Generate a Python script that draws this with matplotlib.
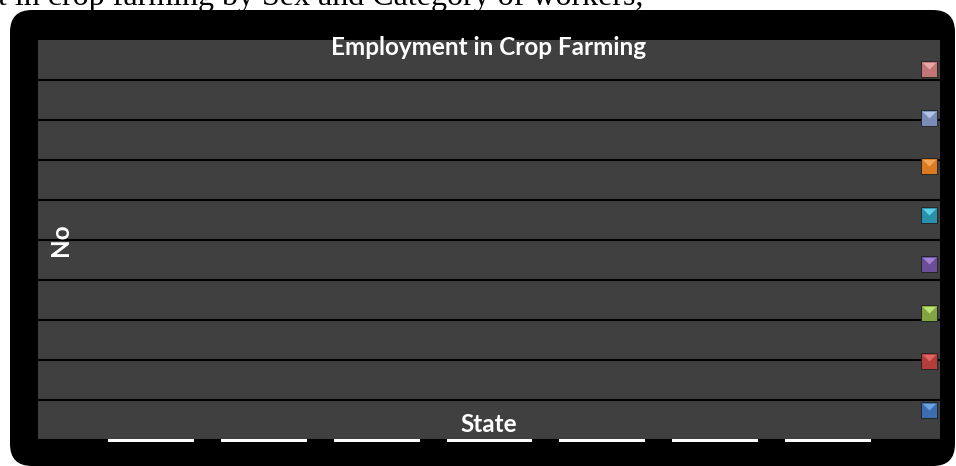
import numpy as np
import matplotlib
matplotlib.use("Agg")
import matplotlib.pyplot as plt
from matplotlib.patches import FancyBboxPatch
from matplotlib.lines import Line2D
from matplotlib.path import Path
from matplotlib.legend_handler import HandlerTuple
from matplotlib.transforms import IdentityTransform

# crop farming employment by state, 8 worker categories (stacked)
states = ["", "", "", "", "", "", ""]
cat_1 = [0, 0, 0, 0, 0, 0, 0]
cat_2 = [0, 0, 0, 0, 0, 0, 0]
cat_3 = [0, 0, 0, 0, 0, 0, 0]
cat_4 = [0, 0, 0, 0, 0, 0, 0]
cat_5 = [0, 0, 0, 0, 0, 0, 0]
cat_6 = [0, 0, 0, 0, 0, 0, 0]
cat_7 = [0, 0, 0, 0, 0, 0, 0]
cat_8 = [0, 0, 0, 0, 0, 0, 0]
cat_names = ["", "", "", "", "", "", "", ""]
y_max = 10

# face colour / lighter bevel colour for the legend keys
cat_colors = ["#3b6db0", "#b23d3b", "#84a443", "#6a4f98",
              "#2b90aa", "#da7b22", "#7a8db6", "#c27476"]
bevel_colors = ["#6aa2e2", "#e26464", "#bce273", "#9f82d2",
                "#60cfe8", "#f6a558", "#b0c2e6", "#eaa6a6"]

series = [cat_1, cat_2, cat_3, cat_4, cat_5, cat_6, cat_7, cat_8]

fig = plt.figure(figsize=(9.56, 4.66), dpi=100)
fig.patch.set_facecolor("white")

# rounded black chart frame, in pixels
frame = FancyBboxPatch((10, 0), 945, 456, boxstyle="round,pad=0,rounding_size=22",
                       transform=IdentityTransform(), facecolor="black",
                       edgecolor="none", zorder=-5)
fig.patches.append(frame)

fig.text(-2 / 956, 461 / 466, "t in crop farming by Sex and Category of workers,",
         family="Liberation Serif", fontsize=23, color="black",
         ha="left", va="baseline")

ax = fig.add_axes([38 / 956, 26 / 466, 902 / 956, 400 / 466])
ax.set_zorder(2)
ax.set_facecolor("#404040")
for sp in ax.spines.values():
    sp.set_visible(False)

x = np.arange(1, len(states) + 1)
bottom = np.zeros(len(states))
for vals in series:
    ax.bar(x, vals, width=0.75, bottom=bottom, color="none",
           edgecolor="white", linewidth=2, clip_on=False, zorder=3)
    bottom = bottom + np.array(vals)

ax.set_xlim(0, len(states) + 1)
ax.set_ylim(0, y_max)
ax.set_xticks(x)
ax.set_xticklabels(states)
ax.set_yticks(np.arange(0, y_max))
ax.set_yticklabels([])
ax.tick_params(length=0)
ax.grid(axis="y", color="black", linewidth=1.5)
ax.set_axisbelow(True)

ax.text(0.5, 0.9625, "Employment in Crop Farming", transform=ax.transAxes,
        family="Lato", fontweight="bold", fontsize=17.5, color="white",
        ha="center", va="baseline")
ax.text(0.5, 0.02, "State", transform=ax.transAxes, family="Lato",
        fontweight="bold", fontsize=17.5, color="white", ha="center", va="baseline")
ax.text(22 / 902, 0.5, "No", transform=ax.transAxes, family="Lato",
        fontweight="bold", fontsize=17.5, color="white", rotation=90,
        ha="center", va="center")

# legend keys: square with a lighter top bevel
bevel = Path([(-1, 1), (1, 1), (0, 0), (-1, 1)])
handles = []
for c, b in zip(cat_colors, bevel_colors):
    sq = Line2D([], [], linestyle="none", marker="s", markersize=11,
                markerfacecolor=c, markeredgecolor="#1e1e1e", markeredgewidth=0.6)
    tri = Line2D([], [], linestyle="none", marker=bevel, markersize=9.5,
                 markerfacecolor=b, markeredgecolor="none")
    handles.append((sq, tri))

leg = ax.legend(handles[::-1], cat_names[::-1], loc="center",
                bbox_to_anchor=(891 / 902, 0.4975), frameon=False,
                handler_map={tuple: HandlerTuple(ndivide=1, pad=0)},
                handlelength=1, handleheight=1, handletextpad=0,
                labelspacing=2.5, fontsize=10, borderpad=0)

fig.savefig("out.png", dpi=100, facecolor=fig.get_facecolor())
